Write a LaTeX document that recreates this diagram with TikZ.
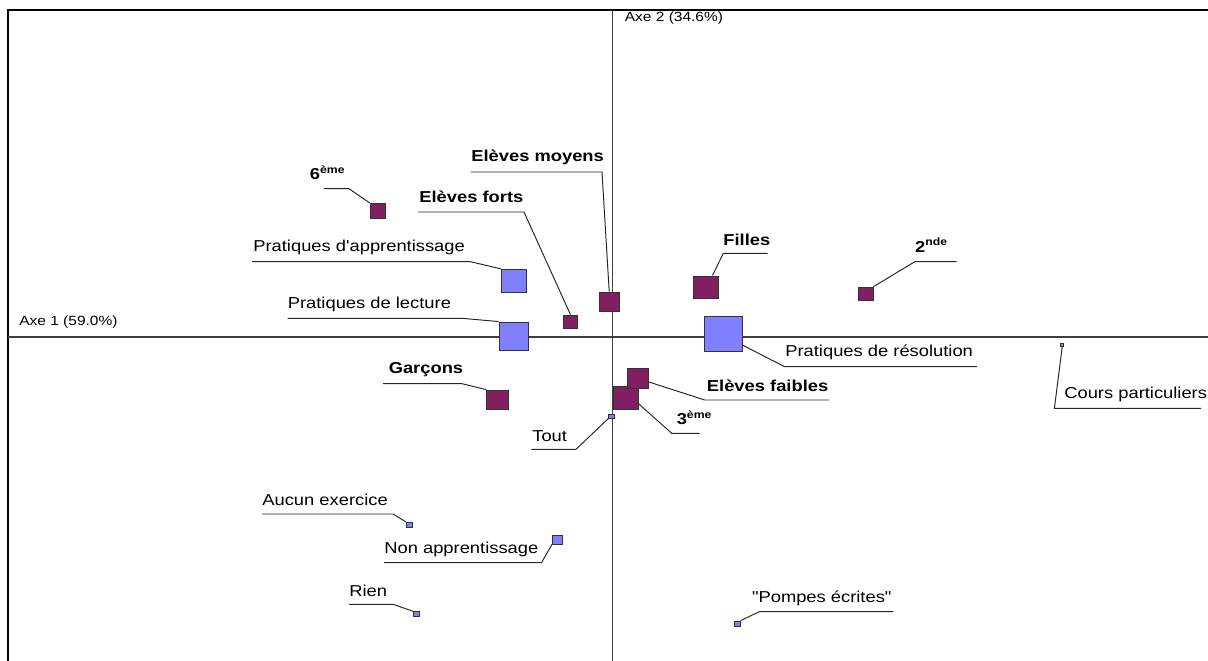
\documentclass[tikz,border=0pt]{standalone}
\usepackage{fontspec}
\setmainfont{Liberation Sans}[FakeStretch=1.16,Ligatures=TeXOff]
\usepackage{tikz}
\usetikzlibrary{positioning}
\definecolor{plum}{HTML}{802060}
\definecolor{lilac}{HTML}{8080FF}
\definecolor{axisgray}{HTML}{404040}

\begin{document}
\begin{tikzpicture}[x=0.02cm,y=-0.02cm,
  mod/.style={draw=black!80,fill=plum,inner sep=0pt,line width=0.5pt},
  act/.style={draw=black!80,fill=lilac,inner sep=0pt,line width=0.5pt},
  sz/.style 2 args={minimum width=#1*0.02cm,minimum height=#2*0.02cm},
  lbl/.style={font=\fontsize{9}{10}\selectfont,anchor=base west,inner sep=0pt},
  blbl/.style={lbl,font=\fontsize{9}{10}\selectfont\bfseries},
  axlbl/.style={font=\fontsize{7.6}{9}\selectfont,anchor=base west,inner sep=0pt},
  lead/.style={draw=black!85,line width=0.55pt}]
  \useasboundingbox (0,0) rectangle (1208,661);

  % Frame and axes
  \draw[line width=0.8pt] (8,661) -- (8,10) -- (1208,10);
  \draw[axisgray,line width=0.6pt] (8,337) -- (1208,337);
  \draw[axisgray,line width=0.6pt] (612.5,10) -- (612.5,661);
  \node[axlbl] (ax1) at (19,326) {Axe 1 (59.0\%)};
  \node[axlbl] (ax2) at (624.5,21.5) {Axe 2 (34.6\%)};

  % Modalities (plum)
  \node[mod,sz={15.8}{14.7}] (s6) at (378,210.7) {};
  \node[mod,sz={19.6}{19}] (smoy) at (609.2,301.5) {};
  \node[mod,sz={13.8}{13}] (sfor) at (570.4,321.5) {};
  \node[mod,sz={25}{22.7}] (sfil) at (705.7,287.3) {};
  \node[mod,sz={14.4}{13.7}] (s2) at (865.8,294) {};
  \node[mod,sz={24.4}{23.3}] (s3) at (625.8,397.7) {};
  \node[mod,sz={21}{20}] (sfai) at (637.5,378.3) {};
  \node[mod,sz={21.4}{19.3}] (sgar) at (497.3,399.7) {};

  % Practices (lilac)
  \node[act,sz={25}{22.7}] (sapp) at (514,280.7) {};
  \node[act,sz={29.3}{28}] (slec) at (513.7,336) {};
  \node[act,sz={38}{34.7}] (sres) at (723.3,334) {};
  \node[act,sz={3}{3}] (scours) at (1062.2,345) {};
  \node[act,sz={5.4}{4}] (stout) at (611.6,416) {};
  \node[act,sz={6}{5}] (saucun) at (409.3,524.8) {};
  \node[act,sz={10}{9}] (snon) at (557.4,539.5) {};
  \node[act,sz={6}{5}] (srien) at (416.5,614.2) {};
  \node[act,sz={6}{5}] (spom) at (737.3,623.5) {};

  % Labels
  \node[blbl] (l6) at (309.6,180) {6\textsuperscript{ème}};
  \node[blbl] (lmoy) at (471,161.5) {Elèves moyens};
  \node[blbl] (lfor) at (419,203) {Elèves forts};
  \node[lbl] (lapp) at (253,252) {Pratiques d'apprentissage};
  \node[lbl] (llec) at (287.5,309) {Pratiques de lecture};
  \node[blbl] (lfil) at (723,246) {Filles};
  \node[blbl] (l2) at (914.8,252.7) {2\textsuperscript{nde}};
  \node[lbl] (lres) at (785,357) {Pratiques de résolution};
  \node[lbl] (lcours) at (1064,398.5) {Cours particuliers};
  \node[blbl] (lfai) at (706.6,391.5) {Elèves faibles};
  \node[blbl] (l3) at (676.4,425) {3\textsuperscript{ème}};
  \node[lbl] (ltout) at (532,441.7) {Tout};
  \node[blbl] (lgar) at (388.4,374) {Garçons};
  \node[lbl] (laucun) at (262,505.7) {Aucun exercice};
  \node[lbl] (lnon) at (384,553.5) {Non apprentissage};
  \node[lbl] (lrien) at (349,596.7) {Rien};
  \node[lbl] (lpom) at (751.7,602.3) {"Pompes écrites"};

  % Leader lines
  \coordinate (b6) at (349,188.7);   \coordinate (e6) at (324,188.7);
  \coordinate (bmoy) at (602,172);   \coordinate (emoy) at (470.5,172);
  \coordinate (bfor) at (524,212);   \coordinate (efor) at (418,212);
  \coordinate (bapp) at (470.5,261.7); \coordinate (eapp) at (252,261.7);
  \coordinate (blec) at (461.8,318.3); \coordinate (elec) at (287.5,318.3);
  \coordinate (bfil) at (723.3,253.3); \coordinate (efil) at (767.5,253.3);
  \coordinate (b2) at (914.8,261.7); \coordinate (e2) at (956.7,261.7);
  \coordinate (bres) at (784.6,366.7); \coordinate (eres) at (976.9,366.7);
  \coordinate (bcours) at (1054.4,408.3); \coordinate (ecours) at (1201,408.3);
  \coordinate (bfai) at (704.7,400); \coordinate (efai) at (828.8,400);
  \coordinate (b3) at (671.7,433.3); \coordinate (e3) at (699.6,433.3);
  \coordinate (btout) at (576,449.3); \coordinate (etout) at (531.3,449.3);
  \coordinate (bgar) at (462,383.7); \coordinate (egar) at (383,383.7);
  \coordinate (baucun) at (392.9,514); \coordinate (eaucun) at (262,514);
  \coordinate (bnon) at (541.5,562.7); \coordinate (enon) at (384,562.7);
  \coordinate (brien) at (392.9,604.3); \coordinate (erien) at (349,604.3);
  \coordinate (bpom) at (759.3,611.7); \coordinate (epom) at (893.3,611.7);

  \draw[lead] (s6.north west) -- (b6) -- (e6);
  \draw[lead] (smoy.north) -- (bmoy) -- (emoy);
  \draw[lead] (sfor.north) -- (bfor) -- (efor);
  \draw[lead] (sapp.north west) -- (bapp) -- (eapp);
  \draw[lead] (slec.north west) -- (blec) -- (elec);
  \draw[lead] (sfil.60) -- (bfil) -- (efil);
  \draw[lead] (s2.north east) -- (b2) -- (e2);
  \draw[lead] (sres.-30) -- (bres) -- (eres);
  \draw[lead] (scours.south) -- (bcours) -- (ecours);
  \draw[lead] (sfai.-18) -- (bfai) -- (efai);
  \draw[lead] (s3.-25) -- (b3) -- (e3);
  \draw[lead] (stout.south west) -- (btout) -- (etout);
  \draw[lead] (sgar.north west) -- (bgar) -- (egar);
  \draw[lead] (saucun.north west) -- (baucun) -- (eaucun);
  \draw[lead] (snon.south west) -- (bnon) -- (enon);
  \draw[lead] (srien.north west) -- (brien) -- (erien);
  \draw[lead] (spom.north east) -- (bpom) -- (epom);
\end{tikzpicture}
\end{document}
